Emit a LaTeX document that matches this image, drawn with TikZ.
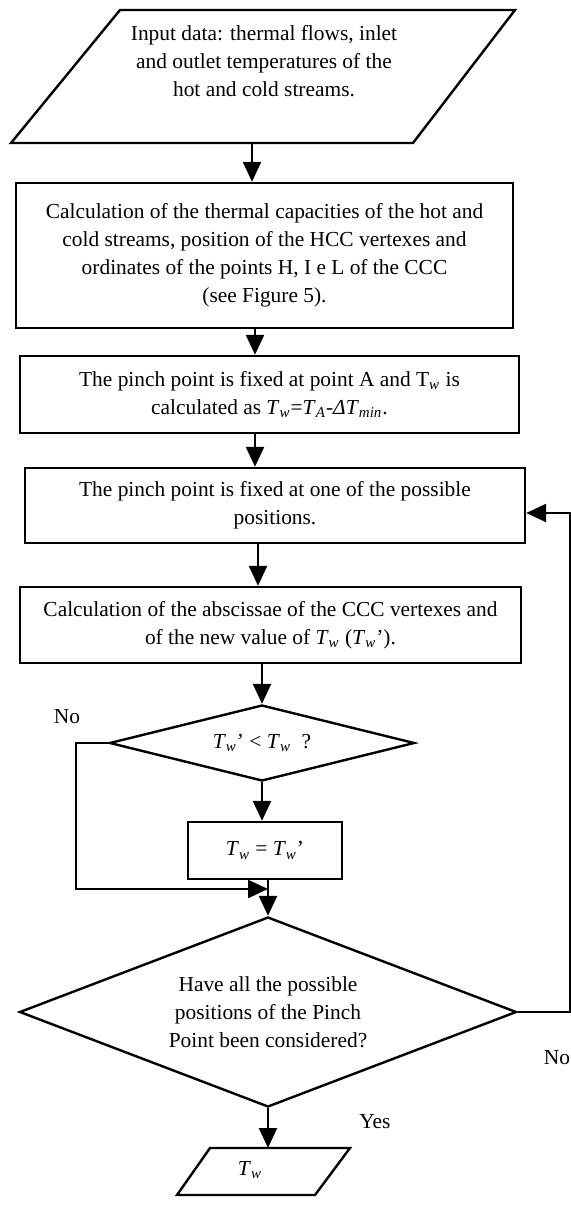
\documentclass[tikz,border=0pt]{standalone}
\usepackage{fontspec}
\setmainfont{Liberation Serif}
\usetikzlibrary{shapes.geometric,arrows.meta}
\newcommand{\Tw}{\textit{T}\textsubscript{\textit{w}}}
\begin{document}
\begin{tikzpicture}[x=.5pt,y=-.5pt,line width=1.2pt,
  font=\fontsize{10.7}{14}\selectfont,
  proc/.style={draw,rectangle,inner sep=0pt,align=center},
  decide/.style={draw,diamond,aspect=3,inner sep=0pt,align=center},
  arr/.style={-{Triangle[width=9pt,length=10pt]}}]
\useasboundingbox (0,0) rectangle (571,1205);
\draw (120,10)--(515,10)--(413,143)--(11,143)--cycle;
\node[align=center] (input) at (264,61) {Input data: thermal flows, inlet\\and outlet temperatures of the\\hot and cold streams.};
\node[proc,minimum width=248.5pt,minimum height=72.5pt] (calc) at (264.5,255.5) {Calculation of the thermal capacities of the hot and\\cold streams, position of the HCC vertexes and\\ordinates of the points H, I e L of the CCC\\(see Figure 5).};
\node[proc,minimum width=249.5pt,minimum height=38.5pt] (pinchA) at (269.5,394.5) {The pinch point is fixed at point A and T\textsubscript{\textit{w}} is\\calculated as \Tw=\textit{T}\textsubscript{\textit{A}}-\textit{ΔT}\textsubscript{\textit{min}}.};
\node[proc,minimum width=250pt,minimum height=37.5pt] (pinchAny) at (275,505.5) {The pinch point is fixed at one of the possible\\positions.};
\node[proc,minimum width=250.5pt,minimum height=38pt] (absc) at (270.5,625) {Calculation of the abscissae of the CCC vertexes and\\of the new value of \Tw{} (\Tw').};
\node[decide,minimum width=152.5pt,minimum height=38pt] (less) at (262,743) {\Tw' < \Tw\ \ ?};
\node[proc,minimum width=77pt,minimum height=28.5pt] (swap) at (265,850.5) {\Tw{} = \Tw'};
\node[decide,minimum width=248.5pt,minimum height=95pt] (all) at (268,1012) {Have all the possible\\positions of the Pinch\\Point been considered?};
\draw (210,1148)--(350,1148)--(315,1195)--(177,1195)--cycle;
\node (result) at (250,1170) {\Tw};
\node (no1) at (67,717) {No};
\node (no2) at (557,1058) {No};
\node (yes) at (375,1122) {Yes};
\coordinate (inbot) at (252,143);
\coordinate (c2) at (255,0);
\coordinate (c3) at (258,0);
\coordinate (join) at (268,889);
\coordinate (rt) at (570,1012);
\coordinate (outtop) at (268,1148);
\draw[arr] (inbot)--(inbot |- calc.north);
\draw[arr] (calc.south -| c2)--(pinchA.north -| c2);
\draw[arr] (pinchA.south -| c2)--(pinchAny.north -| c2);
\draw[arr] (pinchAny.south -| c3)--(absc.north -| c3);
\draw[arr] (absc.south -| less.north)--(less.north);
\draw[arr] (less.south)--(less.south |- swap.north);
\draw[arr] (all.north |- swap.south)--(all.north);
\draw[arr] (less.west)--(76,743) |- (join);
\draw[arr] (all.east)--(rt) |- ([yshift=-3.75pt]pinchAny.east);
\draw[arr] (all.south)--(outtop);
\end{tikzpicture}
\end{document}
